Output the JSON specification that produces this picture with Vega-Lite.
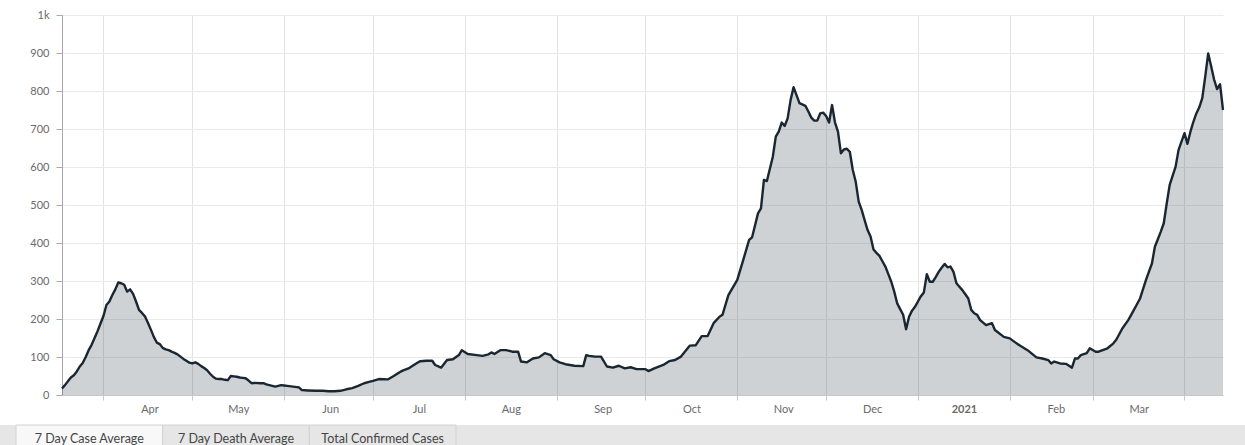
{
  "$schema": "https://vega.github.io/schema/vega-lite/v6.json",
  "padding": {"left": 0, "top": 9, "right": 0, "bottom": 0},
  "background": "white",
  "spacing": 10,
  "config": {
    "font": "Lato",
    "view": {"stroke": null},
    "axis": {"labelFont": "Lato", "labelFontSize": 11, "labelColor": "#6a6a6a", "title": null}
  },
  "vconcat": [
    {
      "width": 1161,
      "height": 380,
      "data": {"values": [
        {"date": "2020-03-18", "cases": 17}, {"date": "2020-03-19", "cases": 26}, {"date": "2020-03-20", "cases": 36},
        {"date": "2020-03-21", "cases": 46}, {"date": "2020-03-22", "cases": 52}, {"date": "2020-03-23", "cases": 62},
        {"date": "2020-03-24", "cases": 75}, {"date": "2020-03-25", "cases": 84}, {"date": "2020-03-26", "cases": 100},
        {"date": "2020-03-27", "cases": 118}, {"date": "2020-03-28", "cases": 132}, {"date": "2020-03-29", "cases": 150},
        {"date": "2020-03-30", "cases": 168}, {"date": "2020-03-31", "cases": 188}, {"date": "2020-04-01", "cases": 208},
        {"date": "2020-04-02", "cases": 237}, {"date": "2020-04-03", "cases": 246}, {"date": "2020-04-04", "cases": 263},
        {"date": "2020-04-05", "cases": 278}, {"date": "2020-04-06", "cases": 296}, {"date": "2020-04-07", "cases": 294},
        {"date": "2020-04-08", "cases": 290}, {"date": "2020-04-09", "cases": 272}, {"date": "2020-04-10", "cases": 278},
        {"date": "2020-04-11", "cases": 266}, {"date": "2020-04-12", "cases": 246}, {"date": "2020-04-13", "cases": 224},
        {"date": "2020-04-14", "cases": 216}, {"date": "2020-04-15", "cases": 207}, {"date": "2020-04-16", "cases": 190},
        {"date": "2020-04-17", "cases": 172}, {"date": "2020-04-18", "cases": 153}, {"date": "2020-04-19", "cases": 138},
        {"date": "2020-04-20", "cases": 134}, {"date": "2020-04-21", "cases": 124}, {"date": "2020-04-22", "cases": 120},
        {"date": "2020-04-23", "cases": 118}, {"date": "2020-04-24", "cases": 114}, {"date": "2020-04-25", "cases": 111},
        {"date": "2020-04-26", "cases": 107}, {"date": "2020-04-27", "cases": 101}, {"date": "2020-04-28", "cases": 95},
        {"date": "2020-04-29", "cases": 90}, {"date": "2020-04-30", "cases": 85}, {"date": "2020-05-01", "cases": 83},
        {"date": "2020-05-02", "cases": 86}, {"date": "2020-05-03", "cases": 82}, {"date": "2020-05-04", "cases": 76},
        {"date": "2020-05-05", "cases": 71}, {"date": "2020-05-06", "cases": 65}, {"date": "2020-05-07", "cases": 56},
        {"date": "2020-05-08", "cases": 48}, {"date": "2020-05-09", "cases": 43}, {"date": "2020-05-10", "cases": 42},
        {"date": "2020-05-11", "cases": 42}, {"date": "2020-05-12", "cases": 40}, {"date": "2020-05-13", "cases": 39},
        {"date": "2020-05-14", "cases": 50}, {"date": "2020-05-15", "cases": 49}, {"date": "2020-05-16", "cases": 48},
        {"date": "2020-05-17", "cases": 46}, {"date": "2020-05-18", "cases": 45}, {"date": "2020-05-19", "cases": 44},
        {"date": "2020-05-20", "cases": 38}, {"date": "2020-05-21", "cases": 31}, {"date": "2020-05-22", "cases": 32},
        {"date": "2020-05-24", "cases": 31}, {"date": "2020-05-25", "cases": 31}, {"date": "2020-05-26", "cases": 28},
        {"date": "2020-05-27", "cases": 26}, {"date": "2020-05-28", "cases": 24}, {"date": "2020-05-29", "cases": 22},
        {"date": "2020-05-30", "cases": 24}, {"date": "2020-05-31", "cases": 26}, {"date": "2020-06-01", "cases": 25},
        {"date": "2020-06-02", "cases": 24}, {"date": "2020-06-04", "cases": 22}, {"date": "2020-06-06", "cases": 20},
        {"date": "2020-06-07", "cases": 13}, {"date": "2020-06-09", "cases": 12}, {"date": "2020-06-12", "cases": 11},
        {"date": "2020-06-14", "cases": 11}, {"date": "2020-06-16", "cases": 10}, {"date": "2020-06-18", "cases": 10},
        {"date": "2020-06-20", "cases": 11}, {"date": "2020-06-22", "cases": 15}, {"date": "2020-06-24", "cases": 18},
        {"date": "2020-06-26", "cases": 24}, {"date": "2020-06-28", "cases": 31}, {"date": "2020-06-30", "cases": 35},
        {"date": "2020-07-01", "cases": 37}, {"date": "2020-07-03", "cases": 42}, {"date": "2020-07-06", "cases": 41},
        {"date": "2020-07-08", "cases": 50}, {"date": "2020-07-10", "cases": 60}, {"date": "2020-07-11", "cases": 64},
        {"date": "2020-07-13", "cases": 70}, {"date": "2020-07-14", "cases": 75}, {"date": "2020-07-16", "cases": 85},
        {"date": "2020-07-17", "cases": 89}, {"date": "2020-07-19", "cases": 90}, {"date": "2020-07-21", "cases": 90},
        {"date": "2020-07-22", "cases": 79}, {"date": "2020-07-24", "cases": 72}, {"date": "2020-07-26", "cases": 92},
        {"date": "2020-07-28", "cases": 94}, {"date": "2020-07-30", "cases": 105}, {"date": "2020-07-31", "cases": 118},
        {"date": "2020-08-02", "cases": 108}, {"date": "2020-08-05", "cases": 105}, {"date": "2020-08-07", "cases": 103},
        {"date": "2020-08-09", "cases": 107}, {"date": "2020-08-10", "cases": 112}, {"date": "2020-08-11", "cases": 108},
        {"date": "2020-08-13", "cases": 118}, {"date": "2020-08-15", "cases": 118}, {"date": "2020-08-17", "cases": 114},
        {"date": "2020-08-19", "cases": 114}, {"date": "2020-08-20", "cases": 88}, {"date": "2020-08-22", "cases": 86},
        {"date": "2020-08-24", "cases": 96}, {"date": "2020-08-26", "cases": 99}, {"date": "2020-08-28", "cases": 110},
        {"date": "2020-08-30", "cases": 105}, {"date": "2020-08-31", "cases": 94}, {"date": "2020-09-02", "cases": 86},
        {"date": "2020-09-04", "cases": 81}, {"date": "2020-09-07", "cases": 77}, {"date": "2020-09-10", "cases": 76},
        {"date": "2020-09-11", "cases": 105}, {"date": "2020-09-12", "cases": 103}, {"date": "2020-09-14", "cases": 101},
        {"date": "2020-09-16", "cases": 101}, {"date": "2020-09-18", "cases": 75}, {"date": "2020-09-20", "cases": 72},
        {"date": "2020-09-22", "cases": 77}, {"date": "2020-09-24", "cases": 70}, {"date": "2020-09-26", "cases": 73},
        {"date": "2020-09-28", "cases": 68}, {"date": "2020-10-01", "cases": 68}, {"date": "2020-10-02", "cases": 63},
        {"date": "2020-10-04", "cases": 70}, {"date": "2020-10-07", "cases": 79}, {"date": "2020-10-09", "cases": 89},
        {"date": "2020-10-11", "cases": 92}, {"date": "2020-10-13", "cases": 101}, {"date": "2020-10-16", "cases": 130},
        {"date": "2020-10-18", "cases": 131}, {"date": "2020-10-20", "cases": 155}, {"date": "2020-10-22", "cases": 155},
        {"date": "2020-10-24", "cases": 189}, {"date": "2020-10-26", "cases": 206}, {"date": "2020-10-27", "cases": 211},
        {"date": "2020-10-29", "cases": 263}, {"date": "2020-11-01", "cases": 303}, {"date": "2020-11-03", "cases": 355},
        {"date": "2020-11-05", "cases": 408}, {"date": "2020-11-06", "cases": 415}, {"date": "2020-11-08", "cases": 478},
        {"date": "2020-11-09", "cases": 491}, {"date": "2020-11-10", "cases": 566}, {"date": "2020-11-11", "cases": 563},
        {"date": "2020-11-13", "cases": 627}, {"date": "2020-11-14", "cases": 680}, {"date": "2020-11-15", "cases": 693},
        {"date": "2020-11-16", "cases": 717}, {"date": "2020-11-17", "cases": 708}, {"date": "2020-11-18", "cases": 728},
        {"date": "2020-11-19", "cases": 776}, {"date": "2020-11-20", "cases": 810}, {"date": "2020-11-21", "cases": 789},
        {"date": "2020-11-22", "cases": 768}, {"date": "2020-11-24", "cases": 761}, {"date": "2020-11-25", "cases": 746},
        {"date": "2020-11-26", "cases": 730}, {"date": "2020-11-27", "cases": 722}, {"date": "2020-11-28", "cases": 722},
        {"date": "2020-11-29", "cases": 741}, {"date": "2020-11-30", "cases": 743}, {"date": "2020-12-01", "cases": 734},
        {"date": "2020-12-02", "cases": 717}, {"date": "2020-12-03", "cases": 763}, {"date": "2020-12-04", "cases": 717},
        {"date": "2020-12-05", "cases": 693}, {"date": "2020-12-06", "cases": 636}, {"date": "2020-12-07", "cases": 646},
        {"date": "2020-12-08", "cases": 648}, {"date": "2020-12-09", "cases": 640}, {"date": "2020-12-10", "cases": 592},
        {"date": "2020-12-11", "cases": 561}, {"date": "2020-12-12", "cases": 509}, {"date": "2020-12-13", "cases": 487},
        {"date": "2020-12-14", "cases": 460}, {"date": "2020-12-15", "cases": 434}, {"date": "2020-12-16", "cases": 417},
        {"date": "2020-12-17", "cases": 383}, {"date": "2020-12-18", "cases": 374}, {"date": "2020-12-19", "cases": 366},
        {"date": "2020-12-20", "cases": 352}, {"date": "2020-12-21", "cases": 338}, {"date": "2020-12-22", "cases": 318},
        {"date": "2020-12-23", "cases": 298}, {"date": "2020-12-24", "cases": 272}, {"date": "2020-12-25", "cases": 241},
        {"date": "2020-12-26", "cases": 226}, {"date": "2020-12-27", "cases": 211}, {"date": "2020-12-28", "cases": 173},
        {"date": "2020-12-29", "cases": 206}, {"date": "2020-12-30", "cases": 222}, {"date": "2020-12-31", "cases": 232},
        {"date": "2021-01-01", "cases": 246}, {"date": "2021-01-02", "cases": 260}, {"date": "2021-01-03", "cases": 270},
        {"date": "2021-01-04", "cases": 318}, {"date": "2021-01-05", "cases": 298}, {"date": "2021-01-06", "cases": 298},
        {"date": "2021-01-07", "cases": 310}, {"date": "2021-01-08", "cases": 324}, {"date": "2021-01-09", "cases": 335},
        {"date": "2021-01-10", "cases": 345}, {"date": "2021-01-11", "cases": 336}, {"date": "2021-01-12", "cases": 338},
        {"date": "2021-01-13", "cases": 324}, {"date": "2021-01-14", "cases": 294}, {"date": "2021-01-15", "cases": 285},
        {"date": "2021-01-16", "cases": 276}, {"date": "2021-01-17", "cases": 265}, {"date": "2021-01-18", "cases": 254},
        {"date": "2021-01-19", "cases": 224}, {"date": "2021-01-20", "cases": 215}, {"date": "2021-01-21", "cases": 211},
        {"date": "2021-01-22", "cases": 197}, {"date": "2021-01-24", "cases": 184}, {"date": "2021-01-26", "cases": 189},
        {"date": "2021-01-27", "cases": 171}, {"date": "2021-01-30", "cases": 153}, {"date": "2021-02-01", "cases": 149},
        {"date": "2021-02-04", "cases": 132}, {"date": "2021-02-07", "cases": 118}, {"date": "2021-02-10", "cases": 99},
        {"date": "2021-02-12", "cases": 96}, {"date": "2021-02-14", "cases": 92}, {"date": "2021-02-15", "cases": 83},
        {"date": "2021-02-16", "cases": 88}, {"date": "2021-02-18", "cases": 83}, {"date": "2021-02-20", "cases": 82},
        {"date": "2021-02-22", "cases": 72}, {"date": "2021-02-23", "cases": 96}, {"date": "2021-02-24", "cases": 96},
        {"date": "2021-02-25", "cases": 105}, {"date": "2021-02-27", "cases": 110}, {"date": "2021-02-28", "cases": 123},
        {"date": "2021-03-02", "cases": 114}, {"date": "2021-03-03", "cases": 114}, {"date": "2021-03-06", "cases": 123},
        {"date": "2021-03-08", "cases": 136}, {"date": "2021-03-09", "cases": 146}, {"date": "2021-03-11", "cases": 175},
        {"date": "2021-03-13", "cases": 197}, {"date": "2021-03-14", "cases": 211}, {"date": "2021-03-17", "cases": 254},
        {"date": "2021-03-19", "cases": 303}, {"date": "2021-03-21", "cases": 346}, {"date": "2021-03-22", "cases": 390},
        {"date": "2021-03-23", "cases": 410}, {"date": "2021-03-24", "cases": 430}, {"date": "2021-03-25", "cases": 452},
        {"date": "2021-03-26", "cases": 504}, {"date": "2021-03-27", "cases": 553}, {"date": "2021-03-29", "cases": 601},
        {"date": "2021-03-30", "cases": 645}, {"date": "2021-04-01", "cases": 689}, {"date": "2021-04-02", "cases": 661},
        {"date": "2021-04-03", "cases": 693}, {"date": "2021-04-04", "cases": 719}, {"date": "2021-04-05", "cases": 741},
        {"date": "2021-04-06", "cases": 757}, {"date": "2021-04-07", "cases": 781}, {"date": "2021-04-08", "cases": 838},
        {"date": "2021-04-09", "cases": 899}, {"date": "2021-04-10", "cases": 865}, {"date": "2021-04-11", "cases": 830},
        {"date": "2021-04-12", "cases": 805}, {"date": "2021-04-13", "cases": 818}, {"date": "2021-04-14", "cases": 750}
      ]},
      "encoding": {
        "x": {
          "field": "date", "type": "temporal",
          "scale": {"type": "utc", "nice": false},
          "axis": {
            "tickCount": {"interval": "month", "step": 1},
            "grid": true, "gridColor": "#e3e3e3", "gridWidth": 1,
            "domain": true, "domainColor": "#c8c8c8",
            "ticks": true, "tickColor": "#c8c8c8", "tickSize": 5,
            "labelPadding": 3, "labelOffset": 46, "labelOverlap": false, "labelBound": false, "labelFlush": false,
            "labelExpr": "datum.value >= utc(2021,3,1) ? '' : (utcmonth(datum.value) == 0 ? utcFormat(datum.value, '%Y') : utcFormat(datum.value, '%b'))",
            "labelFontWeight": {"condition": {"test": "utcmonth(datum.value) == 0", "value": "bold"}, "value": "normal"}
          }
        },
        "y": {
          "field": "cases", "type": "quantitative",
          "scale": {"domain": [0, 1000], "nice": false},
          "axis": {
            "values": [0, 100, 200, 300, 400, 500, 600, 700, 800, 900, 1000],
            "grid": true, "gridColor": "#eaeaea",
            "domain": true, "domainColor": "#a8a8a8",
            "ticks": true, "tickColor": "#a8a8a8", "tickSize": 6,
            "labelPadding": 7, "minExtent": 62, "maxExtent": 62,
            "labelExpr": "datum.value == 1000 ? '1k' : datum.label"
          }
        }
      },
      "layer": [
        {"mark": {"type": "area", "color": "#36434f", "opacity": 0.24}},
        {"mark": {"type": "line", "color": "#1a2733", "strokeWidth": 2.4, "strokeJoin": "round"}}
      ]
    },
    {
      "width": 1183,
      "height": 21,
      "view": {"stroke": null},
      "resolve": {"scale": {"x": "independent"}},
      "layer": [
        {
          "data": {"values": [{"strip": "tab bar"}]},
          "mark": {"type": "rect", "fill": "#e6e6e6", "strokeWidth": 0},
          "encoding": {
            "x": {"field": "strip", "type": "nominal",
                  "scale": {"type": "band", "range": [-62, 1183], "paddingInner": 0, "paddingOuter": 0},
                  "axis": null}
          }
        },
        {
          "data": {"values": [
            {"tab": "7 Day Case Average", "active": true},
            {"tab": "7 Day Death Average", "active": false},
            {"tab": "Total Confirmed Cases", "active": false}
          ]},
          "encoding": {
            "x": {"field": "tab", "type": "nominal", "sort": null,
                  "scale": {"type": "band", "range": [-46, 394], "paddingInner": 0, "paddingOuter": 0},
                  "axis": null}
          },
          "layer": [
            {"mark": {"type": "rect", "stroke": "#d2d2d2", "strokeWidth": 1},
             "encoding": {"fill": {"condition": {"test": "datum.active", "value": "#f8f8f8"}, "value": "#e6e6e6"}}},
            {"mark": {"type": "text", "fontSize": 12.5, "color": "#444444", "baseline": "middle", "dy": 3, "font": "Lato"},
             "encoding": {"text": {"field": "tab"}}}
          ]
        }
      ]
    }
  ]
}
